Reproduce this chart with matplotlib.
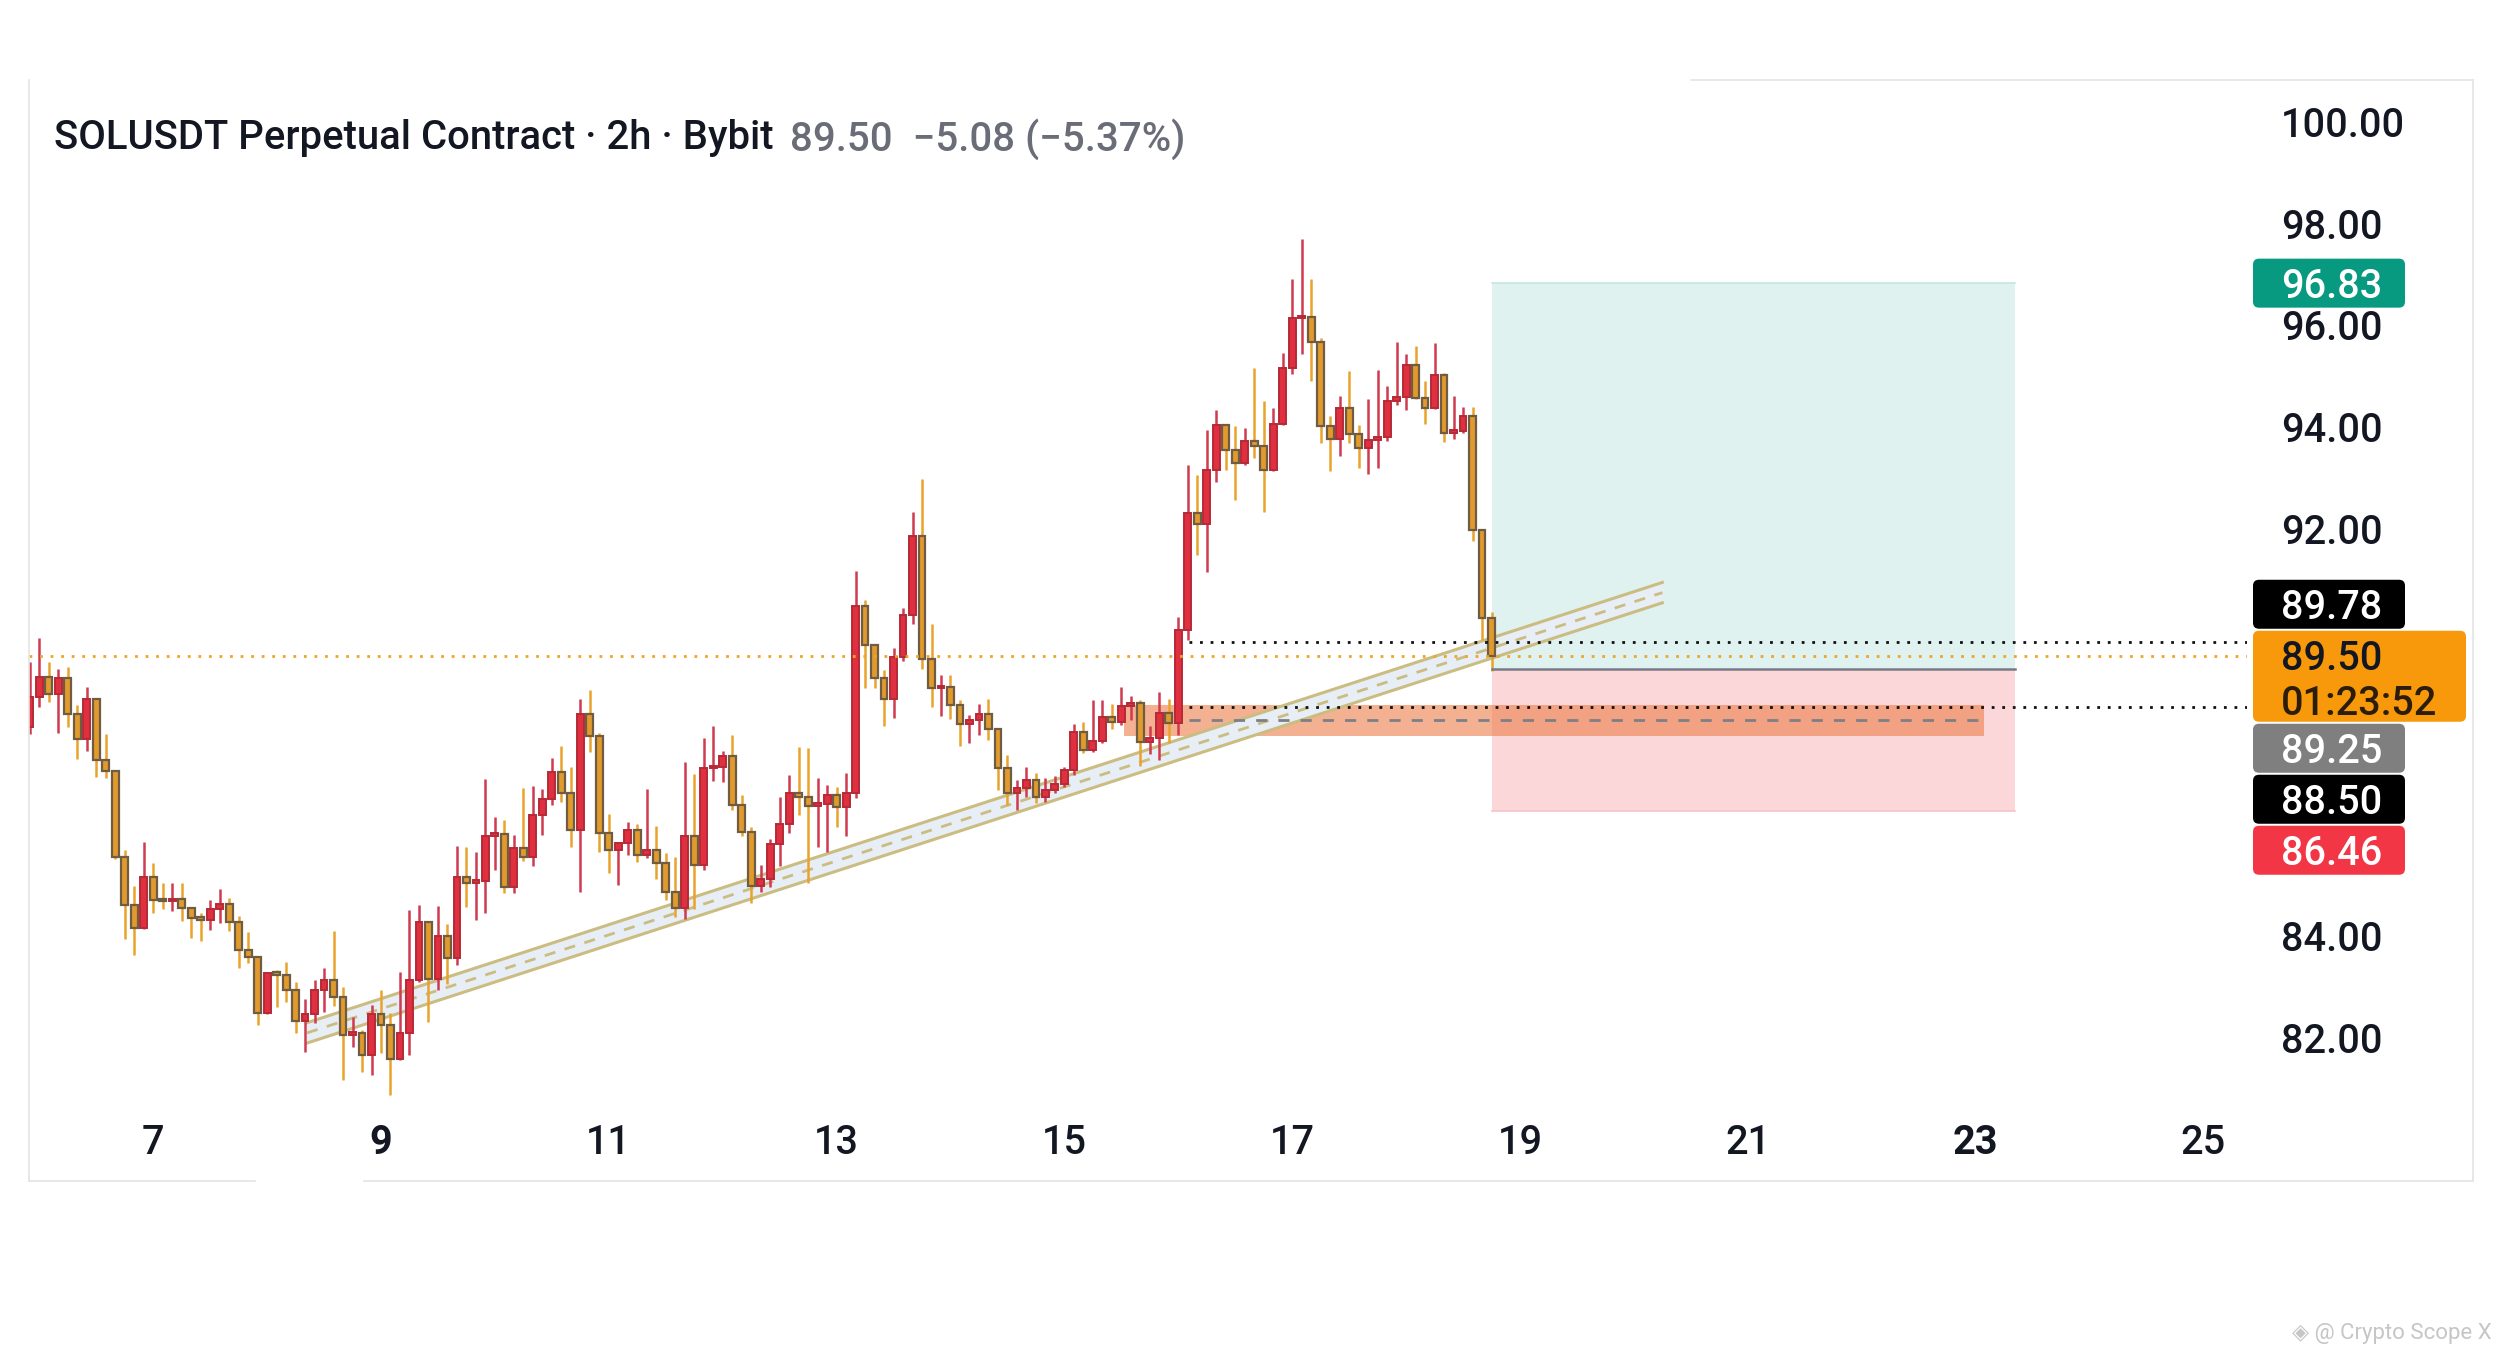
import matplotlib
matplotlib.use('Agg')
import matplotlib.pyplot as plt
import numpy as np
from matplotlib.transforms import blended_transform_factory, IdentityTransform
from matplotlib.patches import Rectangle, FancyBboxPatch, Polygon
from matplotlib.lines import Line2D

# ---------------- data ----------------
first_bar_day = 5 + 22 / 24          # first 2h bar: day 5, 22:00
bar_hours = 2
opens = [88.11, 88.70, 89.10, 88.76, 89.08, 88.36, 87.87, 88.67, 87.46, 87.24,
         85.56, 84.62, 84.17, 85.17, 84.71, 84.69, 84.74, 84.55, 84.35, 84.32,
         84.53, 84.64, 84.28, 83.73, 83.60, 82.50, 83.27, 83.24, 82.95, 82.33,
         82.48, 82.94, 83.14, 82.81, 82.06, 82.09, 81.67, 82.47, 82.26, 81.58,
         82.09, 83.13, 84.27, 83.15, 84.01, 83.57, 85.16, 85.05, 85.09, 85.97,
         86.00, 84.97, 85.73, 85.56, 86.39, 86.69, 87.23, 86.81, 86.09, 88.37,
         87.93, 86.02, 85.69, 85.84, 86.09, 85.60, 85.69, 85.43, 84.87, 84.55,
         85.96, 85.40, 87.30, 87.33, 87.54, 86.58, 86.05, 84.99, 85.12, 85.81,
         86.20, 86.82, 86.74, 86.56, 86.60, 86.77, 86.54, 86.82, 90.49, 89.72,
         89.07, 88.67, 89.48, 90.31, 91.86, 89.44, 88.87, 88.90, 88.54, 88.17,
         88.24, 88.37, 88.08, 87.30, 86.81, 86.91, 87.07, 86.74, 86.87, 86.99,
         87.26, 88.02, 87.66, 87.84, 88.31, 88.21, 88.52, 88.58, 87.82, 87.89,
         88.39, 88.18, 90.01, 92.31, 92.10, 93.16, 94.04, 93.55, 93.30, 93.73,
         93.63, 93.16, 94.06, 95.17, 96.14, 96.17, 95.68, 94.02, 93.76, 94.37,
         93.87, 93.60, 93.75, 93.81, 94.52, 94.60, 95.22, 94.57, 94.37, 95.03,
         93.89, 93.93, 94.22, 91.98, 90.26]
highs = [89.39, 89.85, 89.39, 89.24, 89.28, 88.55, 88.90, 88.67, 87.97, 87.26,
         85.70, 84.98, 85.86, 85.44, 85.05, 85.05, 85.05, 84.57, 84.46, 84.72,
         84.92, 84.76, 84.40, 84.09, 83.62, 83.27, 83.33, 83.50, 83.10, 82.76,
         83.14, 83.37, 84.11, 83.01, 82.42, 82.16, 82.65, 82.94, 82.49, 83.30,
         84.52, 84.61, 84.29, 84.59, 84.24, 85.77, 85.75, 85.66, 87.08, 86.35,
         86.28, 85.99, 86.91, 86.95, 86.89, 87.50, 87.74, 87.32, 88.66, 88.84,
         87.99, 86.41, 85.86, 86.25, 86.20, 86.90, 86.17, 85.63, 85.56, 87.43,
         87.19, 87.89, 88.12, 87.64, 87.95, 86.77, 86.15, 85.40, 85.90, 86.74,
         87.17, 87.72, 87.69, 87.10, 86.97, 86.94, 87.21, 91.18, 90.60, 89.75,
         89.23, 89.66, 90.44, 92.34, 92.99, 90.13, 89.13, 89.13, 88.64, 88.34,
         88.57, 88.67, 88.10, 87.56, 87.07, 87.33, 87.20, 87.10, 87.15, 87.33,
         88.17, 88.21, 88.65, 88.64, 88.57, 88.89, 88.71, 88.64, 88.12, 88.80,
         88.67, 90.28, 93.26, 93.06, 93.94, 94.34, 94.06, 94.02, 93.98, 95.16,
         94.52, 94.37, 95.46, 96.91, 97.69, 96.92, 95.75, 94.22, 94.61, 95.11,
         94.04, 94.55, 95.12, 94.80, 95.68, 95.44, 95.59, 94.91, 95.66, 95.07,
         94.61, 94.39, 94.39, 92.00, 90.37]
lows = [87.98, 88.51, 88.61, 88.00, 88.11, 87.49, 87.64, 87.12, 87.10, 85.52,
        83.94, 83.63, 84.15, 84.45, 84.53, 84.49, 84.30, 83.97, 83.90, 84.13,
        84.26, 84.10, 83.38, 83.48, 82.25, 82.48, 82.61, 82.71, 82.10, 81.73,
        82.29, 82.52, 82.62, 81.18, 81.83, 81.34, 81.27, 81.70, 80.88, 81.56,
        81.67, 83.11, 82.32, 82.94, 83.07, 83.43, 84.58, 84.32, 84.46, 85.30,
        84.84, 84.84, 85.47, 85.37, 85.99, 86.58, 86.64, 85.76, 84.87, 87.62,
        85.65, 85.24, 85.01, 85.60, 85.46, 85.53, 85.12, 84.72, 84.38, 84.33,
        84.53, 85.30, 87.04, 87.02, 86.47, 85.96, 84.66, 84.86, 84.97, 85.37,
        86.02, 86.38, 85.05, 85.76, 85.66, 86.15, 85.96, 86.71, 88.87, 88.87,
        88.13, 88.28, 89.41, 90.13, 89.24, 88.51, 88.33, 88.26, 87.74, 87.79,
        87.95, 87.85, 86.87, 86.58, 86.48, 86.74, 86.61, 86.64, 86.81, 86.94,
        87.17, 87.59, 87.62, 87.80, 88.08, 88.15, 88.25, 87.34, 87.58, 87.46,
        87.79, 87.95, 89.82, 91.49, 91.16, 92.93, 93.16, 92.57, 93.26, 93.39,
        92.34, 93.13, 94.04, 95.04, 95.44, 94.91, 93.68, 93.13, 93.43, 93.68,
        93.19, 93.08, 93.19, 93.72, 94.44, 94.34, 94.55, 94.06, 94.35, 93.70,
        93.76, 93.89, 91.77, 89.82, 89.22]
closes = [88.70, 89.10, 88.76, 89.08, 88.36, 87.87, 88.67, 87.46, 87.24, 85.56,
          84.62, 84.17, 85.17, 84.71, 84.69, 84.74, 84.55, 84.35, 84.32, 84.53,
          84.64, 84.28, 83.73, 83.60, 82.50, 83.27, 83.24, 82.95, 82.33, 82.48,
          82.94, 83.14, 82.81, 82.06, 82.09, 81.67, 82.47, 82.26, 81.58, 82.09,
          83.13, 84.27, 83.15, 84.01, 83.57, 85.16, 85.05, 85.09, 85.97, 86.00,
          84.97, 85.73, 85.56, 86.39, 86.69, 87.23, 86.81, 86.09, 88.37, 87.93,
          86.02, 85.69, 85.84, 86.09, 85.60, 85.69, 85.43, 84.87, 84.55, 85.96,
          85.40, 87.30, 87.33, 87.54, 86.58, 86.05, 84.99, 85.12, 85.81, 86.20,
          86.82, 86.74, 86.56, 86.60, 86.77, 86.54, 86.82, 90.49, 89.72, 89.07,
          88.67, 89.48, 90.31, 91.86, 89.44, 88.87, 88.90, 88.54, 88.17, 88.24,
          88.37, 88.08, 87.30, 86.81, 86.91, 87.07, 86.74, 86.87, 86.99, 87.26,
          88.02, 87.66, 87.84, 88.31, 88.21, 88.52, 88.58, 87.82, 87.89, 88.39,
          88.18, 90.01, 92.31, 92.10, 93.16, 94.04, 93.55, 93.30, 93.73, 93.63,
          93.16, 94.06, 95.17, 96.14, 96.17, 95.68, 94.02, 93.76, 94.37, 93.87,
          93.60, 93.75, 93.81, 94.52, 94.60, 95.22, 94.57, 94.37, 95.03, 93.89,
          93.93, 94.22, 91.98, 90.26, 89.50]

price_ticks = [100, 98, 96, 94, 92, 84, 82]
day_ticks = [7, 9, 11, 13, 15, 17, 19, 21, 23, 25]
bold_days = [9, 23]

last_price = 89.50
countdown = "01:23:52"
level_high = 89.78
level_low = 88.50
target = 96.83
entry = 89.25
stop = 86.46
zone_top, zone_bottom = 88.55, 87.93
zone_start_day, zone_end_day = 15.52, 23.07
levels_start_day = 16.09
position_end_day = 23.35
trend_p1 = (8.35, 82.10)
trend_p2 = (20.25, 90.75)
trend_half_width = 0.20

title_main = "SOLUSDT Perpetual Contract · 2h · Bybit"
title_vals = "89.50  \u22125.08 (\u22125.37%)"
watermark = "\u25c8 @ Crypto Scope X"

# ---------------- figure ----------------
W, H = 2502, 1359
fig = plt.figure(figsize=(W / 100, H / 100), dpi=100)
fig.patch.set_facecolor('white')
FONT = ['Roboto', 'Inter', 'DejaVu Sans']
FW = 'medium'
FS = 28.5


def fx(px):
    return px / W


def fy(py):
    return 1 - py / H


ax = fig.add_axes([fx(29), fy(1105), fx(2247) - fx(29), fy(80) - fy(1105)])
ax.set_xlim(5.9095, 25.383)
ax.set_ylim(80.684, 100.821)
ax.axis('off')

O = np.array(opens); Hh = np.array(highs); L = np.array(lows); C = np.array(closes)
t = first_bar_day + np.arange(len(O)) * bar_hours / 24
up = C >= O
dn = ~up
bw = 0.72 * bar_hours / 24
RED, RED_EDGE, RED_WICK = '#e0303f', '#b52a38', '#cf3a4e'
ORG, ORG_EDGE, ORG_WICK = '#e29a2c', '#6e5c44', '#e9a22b'
body_min = 0.05

ax.vlines(t[up], L[up], Hh[up], color=RED_WICK, lw=1.8, zorder=4)
ax.vlines(t[dn], L[dn], Hh[dn], color=ORG_WICK, lw=1.8, zorder=4)
ax.bar(t[up], np.maximum(C[up] - O[up], body_min), bottom=O[up], width=bw,
       color=RED, edgecolor=RED_EDGE, linewidth=1.4, zorder=5)
ax.bar(t[dn], np.maximum(O[dn] - C[dn], body_min), bottom=C[dn], width=bw,
       color=ORG, edgecolor=ORG_EDGE, linewidth=1.6, zorder=5)

# position tool
x_last = t[-1]
ax.add_patch(Rectangle((x_last, entry), position_end_day - x_last, target - entry,
                       facecolor='#dff2ef', edgecolor='none', zorder=1))
ax.add_patch(Rectangle((x_last, stop), position_end_day - x_last, entry - stop,
                       facecolor='#fcd7da', edgecolor='none', zorder=1))
ax.plot([x_last, position_end_day], [target, target], color='#c4e6e0', lw=1.2, zorder=1.1)
ax.plot([x_last, position_end_day], [stop, stop], color='#f6c3c8', lw=1.2, zorder=1.1)
ax.plot([x_last, position_end_day], [entry, entry], color='#787b86', lw=1.8, zorder=6)

# order block zone
ax.add_patch(Rectangle((zone_start_day, zone_bottom), zone_end_day - zone_start_day,
                       zone_top - zone_bottom, facecolor='#ee7d4a', alpha=0.6,
                       edgecolor='none', zorder=2))
ax.plot([levels_start_day, zone_end_day], [(zone_top + zone_bottom) / 2] * 2,
        color='#7d7f88', lw=2.0, dashes=(4, 4), zorder=6)

# trend channel
(x1, y1), (x2, y2) = trend_p1, trend_p2
hw = trend_half_width
ax.add_patch(Polygon([(x1, y1 + hw), (x2, y2 + hw), (x2, y2 - hw), (x1, y1 - hw)],
                     closed=True, facecolor='#e7eef5', edgecolor='none', zorder=2.5))
for off in (hw, -hw):
    ax.plot([x1, x2], [y1 + off, y2 + off], color='#cbbd82', lw=2.2, zorder=3)
ax.plot([x1, x2], [y1, y2], color='#cbbd82', lw=2.0, dashes=(4, 3.5), zorder=3)

# horizontal dotted levels
xr = ax.get_xlim()[1]
ax.plot(ax.get_xlim(), [last_price] * 2, color='#eda52a', lw=2.0,
        linestyle=(0, (1, 2.8)), zorder=7)
for lv in (level_high, level_low):
    ax.plot([levels_start_day, xr], [lv, lv], color='#111111', lw=2.0,
            linestyle=(0, (1, 2.8)), zorder=7)

# price scale labels
ytr = blended_transform_factory(fig.transFigure, ax.transData)
for p in price_ticks:
    fig.text(fx(2281), p, f"{p:.2f}", transform=ytr, fontsize=FS, color='#131722',
             va='center_baseline', ha='left', family=FONT, fontweight=FW)


def ypix(p):
    return ax.transData.transform((0, p))[1]


TAG_H = 49
GAP = 2
org_top = ypix(last_price) + TAG_H / 2 + 1
org_bot = org_top - 2 * TAG_H + 7


def tag(y_center, text, bg, fg, width=152, h=TAG_H):
    x0 = 2253
    fig.add_artist(FancyBboxPatch((x0, y_center - h / 2), width, h,
                                  boxstyle="round,pad=0,rounding_size=6",
                                  transform=IdentityTransform(), facecolor=bg,
                                  edgecolor='none', zorder=10))
    fig.text(fx(2281), y_center / H, text, fontsize=FS, color=fg,
             va='center_baseline', ha='left', family=FONT, fontweight=FW, zorder=11)


# orange last-price tag (two lines)
fig.add_artist(FancyBboxPatch((2253, org_bot), 213, org_top - org_bot,
                              boxstyle="round,pad=0,rounding_size=6",
                              transform=IdentityTransform(), facecolor='#f7990a',
                              edgecolor='none', zorder=10))
fig.text(fx(2281), (org_top - 24) / H, f"{last_price:.2f}", fontsize=FS, color='#131722',
         va='center_baseline', ha='left', family=FONT, fontweight=FW, zorder=11)
fig.text(fx(2281), (org_bot + 22) / H, countdown, fontsize=FS, color='#2b1d0a',
         va='center_baseline', ha='left', family=FONT, fontweight=FW, zorder=11)

# tags stacked around the last-price tag
above = [(level_high, '#000000', 'white')]
below = [(entry, '#7f7f7f', 'white'), (level_low, '#000000', 'white'),
         (stop, '#f23645', 'white')]
edge = org_top
for p, bg, fg in above:
    yc = max(ypix(p), edge + GAP + TAG_H / 2)
    tag(yc, f"{p:.2f}", bg, fg)
    edge = yc + TAG_H / 2
edge = org_bot
for p, bg, fg in below:
    yc = min(ypix(p), edge - GAP - TAG_H / 2)
    tag(yc, f"{p:.2f}", bg, fg)
    edge = yc - TAG_H / 2
tag(ypix(target), f"{target:.2f}", '#089981', 'white')

# date labels
xtr = blended_transform_factory(ax.transData, fig.transFigure)
for d in day_ticks:
    fig.text(d, fy(1139), str(d), transform=xtr, fontsize=FS, color='#131722',
             ha='center', va='center_baseline', family=FONT,
             fontweight='bold' if d in bold_days else FW)

# title
fig.text(fx(54), fy(134), title_main, fontsize=28.8, color='#131722', fontweight=FW,
         va='center_baseline', ha='left', family=FONT)
fig.text(fx(790), fy(134), title_vals, fontsize=29, color='#6a6d78', fontweight=FW,
         va='center_baseline', ha='left', family=FONT)

# watermark
fig.text(fx(2492), fy(1334), watermark, fontsize=16, color='#c6c6c6',
         ha='right', va='center', family=FONT)

# frame
frame_c = '#e4e4e4'
for (xa, ya, xb, yb) in [(1691, 80, 2473, 80), (29, 80, 29, 1181), (2473, 80, 2473, 1181),
                         (29, 1181, 255, 1181), (364, 1181, 2473, 1181)]:
    fig.add_artist(Line2D([fx(xa), fx(xb)], [fy(ya), fy(yb)], color=frame_c, lw=1.2,
                          transform=fig.transFigure))

fig.savefig('out.png', dpi=100, facecolor='white')
